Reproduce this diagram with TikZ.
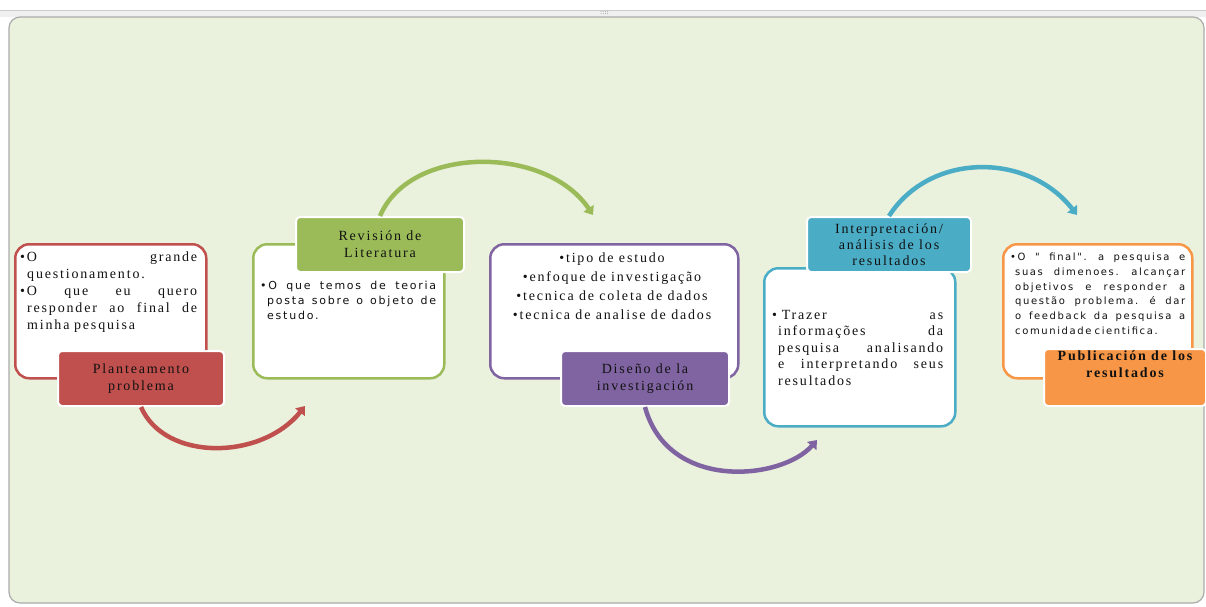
\documentclass[tikz,border=0pt]{standalone}
\usepackage{fontspec}
\setmainfont{Liberation Serif}[LetterSpace=13]
\newfontfamily\bsans{DejaVu Sans}[LetterSpace=16]
\usetikzlibrary{arrows.meta,calc}
\definecolor{cred}{HTML}{C0504D}
\definecolor{cgreen}{HTML}{9BBB59}
\definecolor{cpurple}{HTML}{8064A2}
\definecolor{cblue}{HTML}{4BACC6}
\definecolor{corange}{HTML}{F79646}
\definecolor{panelbg}{HTML}{EAF1DD}
\definecolor{panelline}{HTML}{ABABAB}
\definecolor{tdark}{HTML}{111111}
\newcommand\J{\hskip 0pt plus 1fil\relax}
\newcommand\jl[2]{\leavevmode\hbox to #1{#2}}
\tikzset{
  tbox/.style={draw=#1, line width=2.5pt, fill=white, rounded corners=14pt, anchor=north west, inner sep=0pt},
  lbox/.style={draw=white, line width=2pt, fill=#1, rounded corners=4pt, anchor=north west, inner sep=0pt,
    text=tdark, align=center, font=\fontsize{14}{17}\selectfont},
  bodyser/.style={anchor=north west, inner sep=0pt, text=tdark, align=left, font=\fontsize{14}{17}\selectfont},
  bodysans/.style={anchor=north west, inner sep=0pt, text=tdark, align=left, font=\bsans\fontsize{11}{15}\selectfont},
  flow/.style={draw=#1, line width=4.5pt, -{Triangle[length=8pt,width=12pt]}},
}
\begin{document}
\begin{tikzpicture}[x=1pt,y=-1pt]
\useasboundingbox (0,0) rectangle (1206,606);
\fill[white] (0,0) rectangle (1206,606);
\fill[gray!12] (0,10) rectangle (1206,17);
\draw[gray!40, line width=0.6pt] (0,10) -- (1206,10);
\foreach \i in {0,1,2,3} {\fill[gray!60] (601+\i*2.2,11.6) circle (0.6) (601+\i*2.2,13.6) circle (0.6);}
\draw[panelline, line width=1.2pt, fill=panelbg, rounded corners=11pt] (9,17) rectangle (1204,603);

% text boxes
\node[tbox=cred, minimum width=191pt, minimum height=134pt] (b1) at (14,243) {};
\node[tbox=cgreen, minimum width=191pt, minimum height=134pt] (b2) at (252,243) {};
\node[tbox=cpurple, minimum width=248pt, minimum height=134pt] (b3) at (489,243) {};
\node[tbox=cblue, minimum width=191pt, minimum height=158pt] (b4) at (763,267) {};
\node[tbox=corange, minimum width=189pt, minimum height=134pt] (b5) at (1002,243) {};

% body texts
\node[bodyser, text width=177pt] (t1) at (20,252) {%
\jl{177pt}{•O \J grande}\\
\hspace*{7pt}questionamento.\\
\jl{177pt}{•O \J que \J eu \J quero}\\
\hspace*{7pt}\jl{170pt}{responder \J ao \J final \J de}\\
\hspace*{7pt}minha pesquisa};
\node[bodysans, text width=176pt] (t2) at (260,280.5) {%
\jl{176pt}{•O \J que \J temos \J de \J teoria}\\
\hspace*{7pt}\jl{169pt}{posta \J sobre \J o \J objeto \J de}\\
\hspace*{7pt}estudo.};
\node[anchor=north, inner sep=0pt, text=tdark, align=center, font=\fontsize{14}{19}\selectfont] (t3) at (612,253) {%
•tipo de estudo\\
•enfoque de investigação\\
•tecnica de coleta de dados\\
•tecnica de analise de dados};
\node[bodyser, text width=171pt, font=\fontsize{14}{16.5}\selectfont] (t4) at (772,310) {%
\jl{171pt}{• Trazer \J as}\\
\hspace*{6pt}\jl{165pt}{informações \J da}\\
\hspace*{6pt}\jl{165pt}{pesquisa \J analisando}\\
\hspace*{6pt}\jl{165pt}{e \J interpretando \J seus}\\
\hspace*{6pt}resultados};
\node[bodysans, text width=175pt, font=\bsans\fontsize{10}{14.7}\selectfont] (t5) at (1010,253) {%
\jl{175pt}{•O \J " \J final". \J a \J pesquisa \J e}\\
\hspace*{5pt}\jl{170pt}{suas \J dimenoes. \J alcançar}\\
\hspace*{5pt}\jl{170pt}{objetivos \J e \J responder \J a}\\
\hspace*{5pt}\jl{170pt}{questão \J problema. \J é \J dar}\\
\hspace*{5pt}\jl{170pt}{o \J feedback \J da \J pesquisa \J a}\\
\hspace*{5pt}comunidade cientifica.};

% labels
\node[lbox=cred, minimum width=166pt, minimum height=55pt] (l1) at (57,350) {Planteamento\\problema};
\node[lbox=cgreen, minimum width=168pt, minimum height=55pt] (l2) at (295,216) {Revisión de\\Literatura};
\node[lbox=cpurple, minimum width=168pt, minimum height=55pt] (l3) at (560,350) {Diseño de la\\investigación};
\node[lbox=cblue, minimum width=164pt, minimum height=55pt, font=\fontsize{14}{16}\selectfont] (l4) at (806,216) {Interpretación/\\análisis de los\\resultados};
\node[lbox=corange, minimum width=162pt, minimum height=57pt] (l5) at (1043,348) {};
\node[anchor=north, inner sep=0pt, text=tdark, align=center, font=\bfseries\fontsize{14}{17}\selectfont] (l5t) at (l5.north |- 0,351) {Publicación de los\\resultados};

% connectors
\coordinate (e1) at (305,406);
\coordinate (e2) at (593,215);
\coordinate (e3) at (817,440);
\coordinate (e4) at (1077,215);
\draw[flow=cred] (l1.south) .. controls (165,462) and (262,460) .. (e1);
\draw[flow=cgreen] (l2.north) .. controls (410,145) and (546,145) .. (e2);
\draw[flow=cpurple] (l3.south) .. controls (668,492) and (782,480) .. (e3);
\draw[flow=cblue] (l4.north) .. controls (930,152) and (1028,152) .. (e4);
\end{tikzpicture}
\end{document}
